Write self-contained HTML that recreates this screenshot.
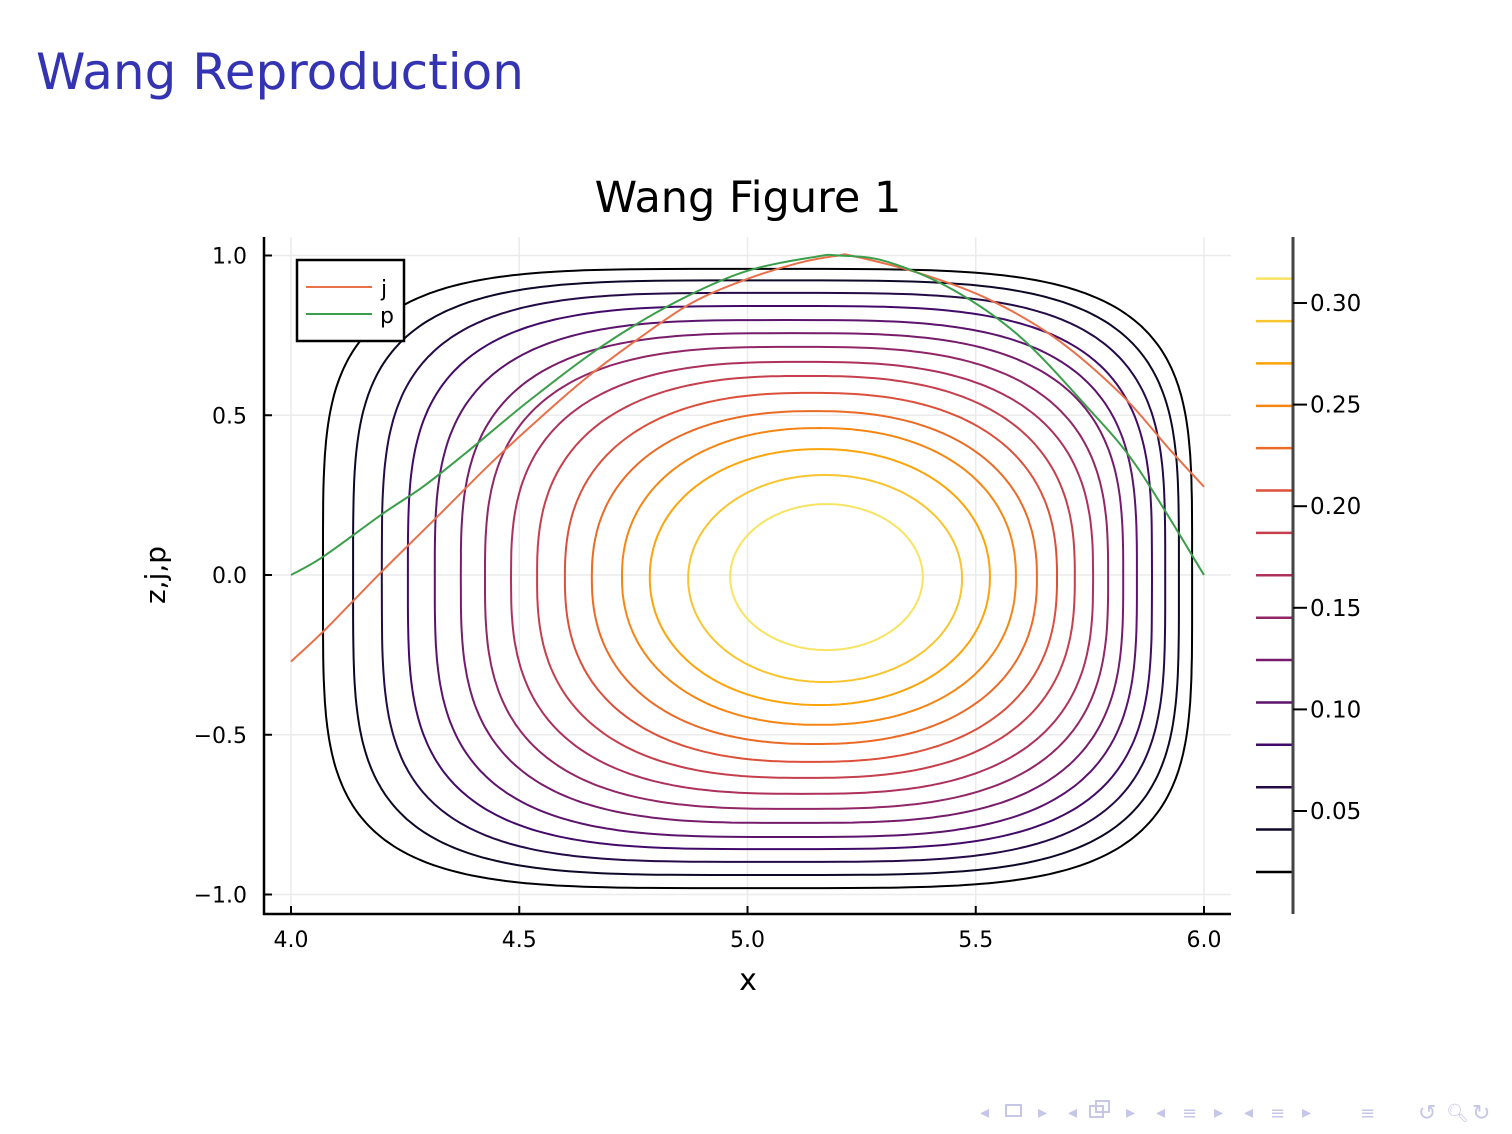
<!DOCTYPE html>
<html><head><meta charset="utf-8"><style>
html,body{margin:0;padding:0;background:#fff;}
svg{display:block;font-family:"DejaVu Sans","Liberation Sans",sans-serif;}
</style></head><body>
<svg id="chart" width="1512" height="1134" viewBox="0 0 1512 1134" xmlns="http://www.w3.org/2000/svg">
<text x="36" y="89" font-size="50" fill="#3333b3" font-family="DejaVu Sans, sans-serif">Wang Reproduction</text>
<text x="748" y="212" font-size="43" text-anchor="middle" fill="#000" font-family="DejaVu Sans, sans-serif">Wang Figure 1</text>
<g id="grid"></g>
<g id="contours"></g>
<g id="series"></g>
<g id="axes"></g>
<g id="colorbar"></g>
<text x="748" y="990" font-size="30" text-anchor="middle" font-family="DejaVu Sans, sans-serif">x</text>
<text transform="translate(165,575) rotate(-90)" font-size="28" text-anchor="middle" font-family="DejaVu Sans, sans-serif">z,j,p</text>
<g>
<rect x="297" y="260" width="107" height="81" fill="#fff" stroke="#000" stroke-width="2.5"/>
<line x1="306" y1="287" x2="372" y2="287" stroke="#e9704a" stroke-width="2"/>
<text x="381" y="296" font-size="22" font-family="DejaVu Sans, sans-serif">j</text>
<line x1="306" y1="314" x2="372" y2="314" stroke="#3a9e4a" stroke-width="2"/>
<text x="380" y="323" font-size="22" font-family="DejaVu Sans, sans-serif">p</text>
</g>
<g fill="#c6c6e8" font-size="18">
<text x="980" y="1118">◂</text>
<rect x="1006" y="1105" width="15" height="11" fill="none" stroke="#c6c6e8" stroke-width="2"/>
<text x="1038" y="1118">▸</text>
<text x="1068" y="1118">◂</text>
<rect x="1090" y="1106" width="13" height="11" fill="none" stroke="#c6c6e8" stroke-width="2"/>
<rect x="1096" y="1101" width="13" height="11" fill="none" stroke="#c6c6e8" stroke-width="2"/>
<text x="1126" y="1118">▸</text>
<text x="1156" y="1118">◂</text>
<text x="1182" y="1119">≡</text>
<text x="1214" y="1118">▸</text>
<text x="1244" y="1118">◂</text>
<text x="1270" y="1119">≡</text>
<text x="1302" y="1118">▸</text>
<text x="1360" y="1119">≡</text>
<text x="1418" y="1120" font-size="22">↺</text>
<text x="1446" y="1119">🔍︎</text>
<text x="1472" y="1120" font-size="22">↻</text>
</g>
</svg>
<script>
const xTicks=[4.0,4.5,5.0,5.5,6.0];
const xTickLabels=["4.0","4.5","5.0","5.5","6.0"];
const yTicks=[1.0,0.5,0.0,-0.5,-1.0];
const yTickLabels=["1.0","0.5","0.0","\u22120.5","\u22121.0"];
const levels=[0.020,0.0409,0.0617,0.0826,0.1034,0.1243,0.1451,0.1660,0.1869,0.2077,0.2286,0.2494,0.2703,0.2911,0.312];
const contourLeft=[4.070,4.136,4.199,4.256,4.315,4.372,4.425,4.482,4.539,4.600,4.659,4.725,4.786,4.870,4.962];
const contourRight=[5.974,5.945,5.915,5.886,5.853,5.823,5.790,5.757,5.717,5.678,5.634,5.588,5.531,5.470,5.384];
const contourTop=[0.958,0.922,0.883,0.842,0.798,0.757,0.714,0.667,0.623,0.570,0.513,0.460,0.394,0.313,0.222];
const contourBottom=[-0.980,-0.939,-0.898,-0.858,-0.820,-0.776,-0.732,-0.685,-0.635,-0.585,-0.529,-0.469,-0.407,-0.335,-0.235];
const jX=[4.0,4.074,4.195,4.328,4.430,4.524,4.641,4.758,4.876,4.993,5.110,5.2,5.232,5.378,5.524,5.670,5.816,5.926,6.0];
const jY=[-0.271,-0.172,0.005,0.193,0.339,0.464,0.610,0.736,0.850,0.923,0.976,1.0,0.998,0.944,0.866,0.746,0.569,0.391,0.276];
const pX=[4.0,4.07,4.203,4.289,4.383,4.524,4.680,4.837,4.993,5.149,5.2,5.305,5.451,5.597,5.743,5.853,6.0];
const pY=[0.0,0.057,0.194,0.276,0.382,0.548,0.715,0.850,0.949,0.996,1.0,0.981,0.892,0.746,0.527,0.339,0.0];
const cbTicks=[0.05,0.10,0.15,0.20,0.25,0.30];
const cbTickLabels=["0.05","0.10","0.15","0.20","0.25","0.30"];

const NS="http://www.w3.org/2000/svg";
const X=v=>291+(v-4)*456.5;
const Y=v=>575-v*319.5;
const CB=v=>912.6-v/0.05*101.6;
const PL=264,PR=1231,PT=237,PB=914;
function mk(tag,attrs,parent){const e=document.createElementNS(NS,tag);for(const k in attrs)e.setAttribute(k,attrs[k]);parent.appendChild(e);return e;}
const inferno=[[0,0,0,4],[0.1,22,11,57],[0.2,66,10,104],[0.3,106,23,110],[0.4,147,38,103],[0.5,188,55,84],[0.6,221,81,58],[0.7,243,120,25],[0.8,252,165,10],[0.9,246,215,70],[1,252,255,164]];
function cmap(t){for(let i=1;i<inferno.length;i++){if(t<=inferno[i][0]){const a=inferno[i-1],b=inferno[i];const f=(t-a[0])/(b[0]-a[0]);return `rgb(${[1,2,3].map(k=>Math.round(a[k]+f*(b[k]-a[k]))).join(',')})`;}}return 'rgb(252,255,164)';}
const lmin=levels[0],lmax=levels[levels.length-1];
const col=v=>cmap((v-lmin)/(lmax-lmin)*0.93);

const grid=document.getElementById('grid');
xTicks.forEach(v=>{const l=mk('line',{x1:X(v),x2:X(v),y1:PT,y2:PB,stroke:'#ebebeb','stroke-width':1.5},grid);

});
yTicks.forEach(v=>{const l=mk('line',{x1:PL,x2:PR,y1:Y(v),y2:Y(v),stroke:'#ebebeb','stroke-width':1.5},grid);

});

const cg=document.getElementById('contours');
levels.forEach((lv,i)=>{
  const l=contourLeft[i],r=contourRight[i],t=contourTop[i],b=contourBottom[i];
  const cx=(l+r)/2,cy=(t+b)/2,a=(r-l)/2,bb=(t-b)/2;
  const n=2.0+2.3*Math.pow(1-i/14,1.6);
  let d='';
  for(let k=0;k<=360;k++){const th=k*Math.PI/180;const c=Math.cos(th),s=Math.sin(th);
    const x=cx+a*Math.sign(c)*Math.pow(Math.abs(c),2/n);
    const y=cy+bb*Math.sign(s)*Math.pow(Math.abs(s),2/n);
    d+=(k?'L':'M')+X(x).toFixed(1)+','+Y(y).toFixed(1);}
  const p=mk('path',{d:d+'Z',fill:'none',stroke:col(lv),'stroke-width':2},cg);
  
  
});

const sg=document.getElementById('series');
function line(xs,ys,color,name){
  const P=xs.map((x,i)=>[X(x),Y(ys[i])]);
  let d='M'+P[0][0].toFixed(1)+','+P[0][1].toFixed(1);
  for(let i=0;i<P.length-1;i++){
    const p0=P[Math.max(0,i-1)],p1=P[i],p2=P[i+1],p3=P[Math.min(P.length-1,i+2)];
    const c1=[p1[0]+(p2[0]-p0[0])/6,p1[1]+(p2[1]-p0[1])/6];
    const c2=[p2[0]-(p3[0]-p1[0])/6,p2[1]-(p3[1]-p1[1])/6];
    d+='C'+c1.map(v=>v.toFixed(1)).join(',')+' '+c2.map(v=>v.toFixed(1)).join(',')+' '+p2.map(v=>v.toFixed(1)).join(',');
  }
  const p=mk('path',{d:d,fill:'none',stroke:color,'stroke-width':2,'stroke-linejoin':'round'},sg);
  
  }
line(jX,jY,'#e9704a','series-j-line');
line(pX,pY,'#3a9e4a','series-p-line');

const ax=document.getElementById('axes');
mk('line',{x1:PL,x2:PL,y1:PT,y2:PB+1,stroke:'#000','stroke-width':2.5},ax);
mk('line',{x1:PL-1,x2:PR,y1:PB,y2:PB,stroke:'#000','stroke-width':2.5},ax);
xTicks.forEach((v,i)=>{mk('line',{x1:X(v),x2:X(v),y1:PB,y2:PB-8,stroke:'#000','stroke-width':2},ax);
  const t=mk('text',{x:X(v),y:947,'font-size':22,'text-anchor':'middle'},ax);t.textContent=xTickLabels[i];
  
  });
yTicks.forEach((v,i)=>{mk('line',{x1:PL,x2:PL+8,y1:Y(v),y2:Y(v),stroke:'#000','stroke-width':2},ax);
  const t=mk('text',{x:247,y:Y(v)+8,'font-size':22,'text-anchor':'end'},ax);t.textContent=yTickLabels[i];
  
  });

const cb=document.getElementById('colorbar');
levels.forEach((lv,i)=>{const l=mk('line',{x1:1256,x2:1293,y1:CB(lv),y2:CB(lv),stroke:col(lv),'stroke-width':2.5},cb);
  
  });
mk('line',{x1:1293,x2:1293,y1:PT,y2:PB,stroke:'#444','stroke-width':3},cb);
cbTicks.forEach((v,i)=>{mk('line',{x1:1293,x2:1307,y1:CB(v),y2:CB(v),stroke:'#000','stroke-width':2},cb);
  const t=mk('text',{x:1310,y:CB(v)+8,'font-size':23},cb);t.textContent=cbTickLabels[i];
  
  });
</script>
</body></html>
